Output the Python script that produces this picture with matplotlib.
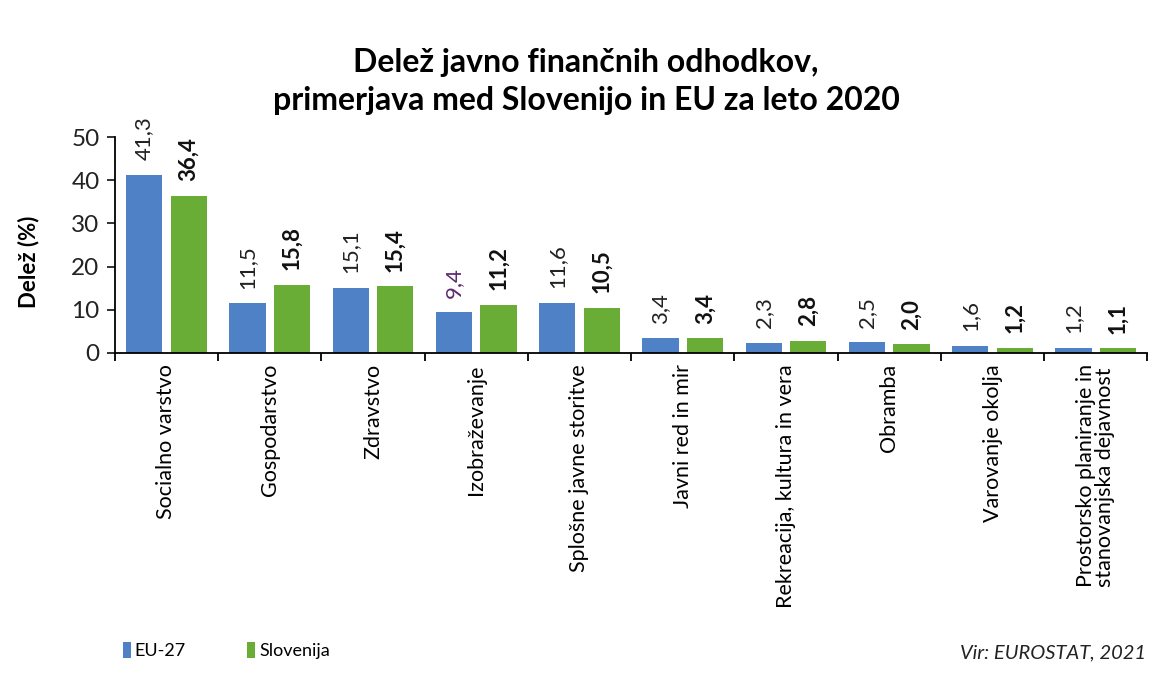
# Delež javno finančnih odhodkov, primerjava Slovenija / EU-27 (2020)
import numpy as np
import matplotlib
matplotlib.use("Agg")
import matplotlib.pyplot as plt

plt.rcParams['font.family'] = ['Lato', 'DejaVu Sans']

# podatki
kategorije = ["Socialno varstvo", "Gospodarstvo", "Zdravstvo", "Izobraževanje",
              "Splošne javne storitve", "Javni red in mir",
              "Rekreacija, kultura in vera", "Obramba", "Varovanje okolja",
              "Prostorsko planiranje in\nstanovanjska dejavnost"]
eu27 = [41.3, 11.5, 15.1, 9.4, 11.6, 3.4, 2.3, 2.5, 1.6, 1.2]
slovenija = [36.4, 15.8, 15.4, 11.2, 10.5, 3.4, 2.8, 2.0, 1.2, 1.1]
y_ticks = [0, 10, 20, 30, 40, 50]

modra = '#4f81c7'
zelena = '#6aad36'

fig = plt.figure(figsize=(11.72, 6.77), dpi=100)
ax = fig.add_axes([0.098, 0.4786, 0.881, 0.319])

x = np.arange(len(kategorije))
sirina = 0.35
ax.bar(x - 0.215, eu27, sirina, color=modra, label='EU-27')
ax.bar(x + 0.215, slovenija, sirina, color=zelena, label='Slovenija')

# oznake vrednosti (decimalna vejica)
for xi, v in zip(x, eu27):
    barva = '#5b2a6e' if v == 9.4 else '#222222'
    ax.annotate(f"{v:.1f}".replace('.', ','), (xi - 0.215, v), xytext=(0, 10.5),
                textcoords='offset points', rotation=90, ha='center', va='bottom',
                fontsize=16, color=barva)
for xi, v in zip(x, slovenija):
    ax.annotate(f"{v:.1f}".replace('.', ','), (xi + 0.215, v), xytext=(0, 10.5),
                textcoords='offset points', rotation=90, ha='center', va='bottom',
                fontsize=16, fontweight='bold', color='#111111')

ax.set_xlim(-0.5, len(kategorije) - 0.5)
ax.set_ylim(0, 50)
ax.set_yticks(y_ticks)
ax.tick_params(axis='y', labelsize=17.5, length=6, width=1.3, colors='#222222', pad=5)

# kategorije: oznake na sredini, kljukice na mejah
ax.set_xticks(x)
ax.set_xticklabels(kategorije, rotation=90, fontsize=15.5, va='top', ha='center',
                   multialignment='left', linespacing=0.95)
ax.tick_params(axis='x', length=0, pad=8)
ax.set_xticks(np.arange(-0.5, len(kategorije)), minor=True)
ax.tick_params(axis='x', which='minor', length=6, width=1.3, direction='out')

for s in ['top', 'right']:
    ax.spines[s].set_visible(False)
ax.spines['left'].set_linewidth(1.3)
ax.spines['bottom'].set_linewidth(1.3)

ax.set_ylabel("Delež (%)", fontsize=16, fontweight='bold')
ax.yaxis.set_label_coords(-0.073, 0.42)

fig.text(0.5, 0.908, "Delež javno finančnih odhodkov,", ha='center', va='center',
         fontsize=23, fontweight='bold')
fig.text(0.5, 0.852, "primerjava med Slovenijo in EU za leto 2020", ha='center',
         va='center', fontsize=23, fontweight='bold')

fig.legend(loc='lower left', bbox_to_anchor=(0.091, 0.002), ncol=2, frameon=False,
           fontsize=13, handlelength=0.45, handleheight=1.0, handletextpad=0.2,
           columnspacing=3.4)
fig.text(0.978, 0.023, "Vir: EUROSTAT, 2021", ha='right', va='bottom',
         fontsize=14.5, style='italic', color='#222222')

fig.savefig("out.png", dpi=100, facecolor='white')
